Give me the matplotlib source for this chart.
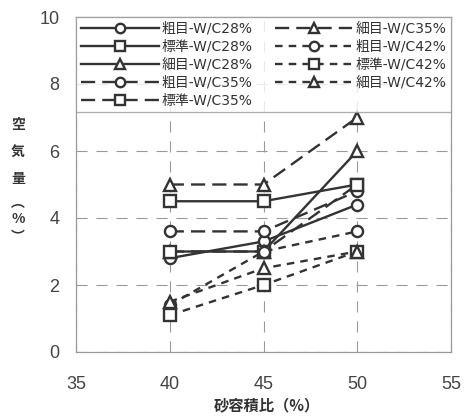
import matplotlib
matplotlib.use("Agg")
import matplotlib.pyplot as plt

plt.rcParams['font.family'] = ['Noto Sans CJK JP', 'DejaVu Sans']

# 砂容積比 (%)
sand_ratio = [40, 45, 50]

# 空気量 (%) per mix
coarse_wc28 = [2.8, 3.3, 4.4]
standard_wc28 = [4.5, 4.5, 5.0]
fine_wc28 = [3.0, 3.0, 6.0]
coarse_wc35 = [3.6, 3.6, 4.8]
standard_wc35 = [3.0, 3.0, 5.0]
fine_wc35 = [5.0, 5.0, 7.0]
coarse_wc42 = [1.4, 3.0, 3.6]
standard_wc42 = [1.1, 2.0, 3.0]
fine_wc42 = [1.5, 2.5, 3.0]

labels = ["粗目-W/C28%", "標準-W/C28%", "細目-W/C28%",
          "粗目-W/C35%", "標準-W/C35%", "細目-W/C35%",
          "粗目-W/C42%", "標準-W/C42%", "細目-W/C42%"]
series = [coarse_wc28, standard_wc28, fine_wc28,
          coarse_wc35, standard_wc35, fine_wc35,
          coarse_wc42, standard_wc42, fine_wc42]

x_ticks = [35, 40, 45, 50, 55]
y_ticks = [0, 2, 4, 6, 8, 10]

markers = ['o', 's', '^'] * 3
solid = '-'
long_dash = (0, (6, 3))
short_dash = (0, (3.2, 2.6))
styles = [solid] * 3 + [long_dash] * 3 + [short_dash] * 3

ink = '#333333'

fig = plt.figure(figsize=(4.65, 4.18), dpi=100)
ax = fig.add_axes([76 / 465, 1 - 352 / 418, 375 / 465, 335 / 418])

for vals, lab, mk, ls in zip(series, labels, markers, styles):
    ax.plot(sand_ratio, vals, linestyle=ls, color=ink, linewidth=1.7,
            marker=mk, markersize=8, markerfacecolor='white',
            markeredgecolor=ink, markeredgewidth=1.7, label=lab)

ax.set_xlim(35, 55)
ax.set_ylim(0, 10)
ax.set_xticks(x_ticks)
ax.set_yticks(y_ticks)
ax.tick_params(length=0, labelsize=13, labelcolor='#444444')
ax.tick_params(axis='x', pad=17)
ax.tick_params(axis='y', pad=12)
for lab in ax.get_xticklabels() + ax.get_yticklabels():
    lab.set_family(['Liberation Sans', 'DejaVu Sans'])

ax.grid(True, color='#9a9a9a', linewidth=0.8, linestyle=(0, (10, 8)))
ax.set_axisbelow(True)
for sp in ax.spines.values():
    sp.set_color('#999999')
    sp.set_linewidth(0.9)

leg = ax.legend(ncol=2, loc='upper left', bbox_to_anchor=(0, 0, 1, 1),
                mode='expand', borderaxespad=0,
                prop={'family': ['DejaVu Sans', 'Noto Sans CJK JP'], 'size': 10},
                handlelength=5.6, handletextpad=0.2, columnspacing=0.6,
                labelspacing=0.28, markerscale=0.85, frameon=True,
                fancybox=False, borderpad=0.35)
leg.get_frame().set_edgecolor('#999999')
leg.get_frame().set_linewidth(0.9)
for t in leg.get_texts():
    t.set_color('#333333')

fig.text(267 / 465, 1 - 405 / 418, "砂容積比（%）", ha='center', va='center',
         fontsize=11, fontweight='bold', color='#333333')

# vertically stacked y-axis title
ylab_chars = ["空", "気", "量", "︵", "%", "︶"]
ylab_pos = [125, 152, 179, 203, 219, 237]
for ch, yp in zip(ylab_chars, ylab_pos):
    fig.text(18 / 465, 1 - yp / 418, ch, ha='center', va='center',
             fontsize=10, fontweight='bold', color='#333333')

fig.savefig("out.png", dpi=100)
